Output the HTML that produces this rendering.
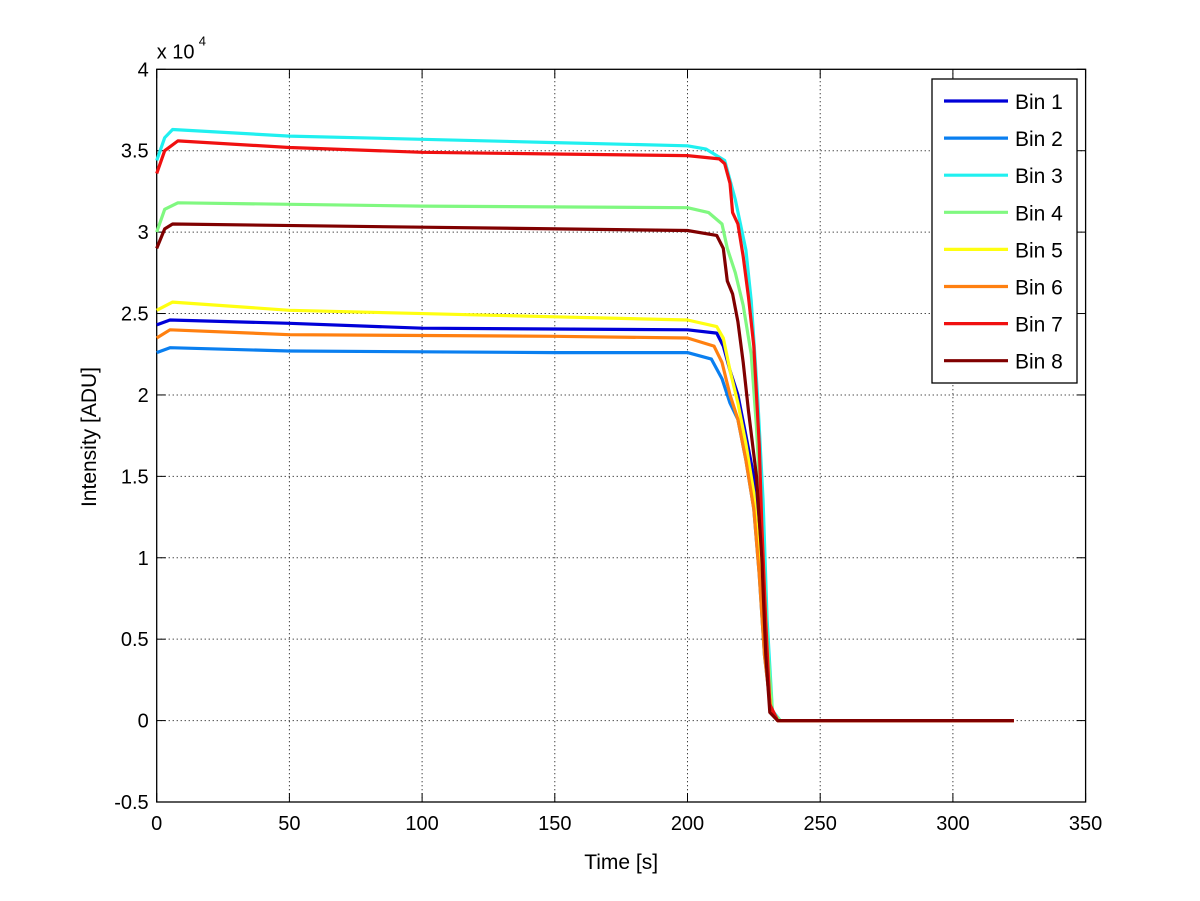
<!DOCTYPE html>
<html><head><meta charset="utf-8"><style>
body{margin:0;background:#fff;width:1200px;height:901px;overflow:hidden}
svg{display:block;font-family:"Liberation Sans",sans-serif}
</style></head><body>
<svg id="chart" width="1200" height="901"></svg>
<script>
const xTicks=[0,50,100,150,200,250,300,350];
const yTicks=[-0.5,0,0.5,1,1.5,2,2.5,3,3.5,4];
const yTickLabels=["-0.5","0","0.5","1","1.5","2","2.5","3","3.5","4"];
const seriesNames=["Bin 1","Bin 2","Bin 3","Bin 4","Bin 5","Bin 6","Bin 7","Bin 8"];
const seriesColors=["#0000d8","#0a7ff0","#20f0f0","#80f880","#ffff10","#ff8010","#f01010","#800000"];
const bin1=[[0,2.43],[5,2.46],[50,2.44],[100,2.41],[200,2.40],[211,2.38],[213.5,2.30],[216,2.15],[219,2.0],[222,1.75],[225,1.5],[227,1.05],[229,0.5],[231.5,0.05],[234,0],[323,0]];
const bin2=[[0,2.26],[5,2.29],[50,2.27],[150,2.26],[200,2.26],[209,2.22],[213,2.1],[216,1.95],[219,1.85],[222,1.6],[225,1.3],[227,0.9],[229,0.4],[231.5,0.05],[234,0],[323,0]];
const bin3=[[0,3.44],[3,3.58],[6,3.63],[50,3.59],[100,3.57],[150,3.55],[200,3.53],[207,3.51],[214,3.44],[218,3.2],[222,2.89],[224,2.58],[226.5,1.97],[228.5,1.35],[230,0.62],[232,0.06],[235,0],[323,0]];
const bin4=[[0,3.0],[3,3.14],[8,3.18],[100,3.16],[200,3.15],[208,3.12],[213,3.05],[215,2.9],[218,2.75],[221,2.55],[224,2.25],[226,1.8],[228,1.2],[230,0.5],[232,0.05],[235,0],[323,0]];
const bin5=[[0,2.52],[6,2.57],[50,2.52],[150,2.48],[200,2.46],[211,2.42],[213.5,2.35],[216,2.15],[219,1.95],[222,1.7],[225,1.4],[227,1.0],[229,0.5],[231.5,0.05],[234,0],[323,0]];
const bin6=[[0,2.35],[5,2.40],[50,2.37],[150,2.36],[200,2.35],[210,2.30],[213,2.2],[216,2.0],[219,1.85],[222,1.6],[225,1.3],[227,0.9],[229,0.4],[231.5,0.05],[234,0],[323,0]];
const bin7=[[0,3.36],[3,3.50],[8,3.56],[50,3.52],[100,3.49],[150,3.48],[200,3.47],[212,3.45],[214,3.42],[216,3.3],[217,3.12],[219,3.05],[221,2.85],[223,2.6],[225,2.3],[227,1.7],[228,1.2],[229.5,0.6],[231,0.1],[234,0],[323,0]];
const bin8=[[0,2.90],[3,3.02],[6,3.05],[100,3.03],[200,3.01],[211,2.98],[213.5,2.9],[215,2.7],[217,2.62],[219,2.45],[221,2.2],[223,1.9],[226,1.5],[228,1.0],[229.5,0.4],[231,0.05],[234,0],[323,0]];
const seriesData=[bin1,bin2,bin3,bin4,bin5,bin6,bin7,bin8];

const L=156.7,R=1085.6,T=69.3,B=802;
const xMin=0,xMax=350,yMin=-0.5,yMax=4;
function xs(v){return L+(v-xMin)/(xMax-xMin)*(R-L);}
function ys(v){return B-(v-yMin)/(yMax-yMin)*(B-T);}
const NS="http://www.w3.org/2000/svg";
const svg=document.getElementById('chart');
function mk(tag,attrs,parent){const e=document.createElementNS(NS,tag);for(const k in attrs)e.setAttribute(k,attrs[k]);(parent||svg).appendChild(e);return e;}

// grid
xTicks.forEach((t,i)=>{
  const x=xs(t);
  if(i>0&&i<xTicks.length-1){const g=mk('line',{x1:x,x2:x,y1:T,y2:B,stroke:'#000','stroke-width':1,'stroke-dasharray':'1,3'});
  
  }
  const tk=mk('line',{x1:x,x2:x,y1:B,y2:B-9,stroke:'#000'});
  
  
  const tk2=mk('line',{x1:x,x2:x,y1:T,y2:T+9,stroke:'#000'});
  
  
  const lb=mk('text',{x:x,y:B+28,'font-size':20,'text-anchor':'middle'});
  lb.textContent=t;
  
  
});
yTicks.forEach((t,i)=>{
  const y=ys(t);
  if(i>0&&i<yTicks.length-1){const g=mk('line',{x1:L,x2:R,y1:y,y2:y,stroke:'#000','stroke-width':1,'stroke-dasharray':'1,3'});
  
  }
  const tk=mk('line',{x1:L,x2:L+9,y1:y,y2:y,stroke:'#000'});
  
  
  const tk2=mk('line',{x1:R,x2:R-9,y1:y,y2:y,stroke:'#000'});
  
  
  const lb=mk('text',{x:L-8,y:y+7,'font-size':20,'text-anchor':'end'});
  lb.textContent=yTickLabels[i];
  
  
});
const frame=mk('rect',{x:L,y:T,width:R-L,height:B-T,fill:'none',stroke:'#000','stroke-width':1.3});



// series
seriesData.forEach((d,i)=>{
  const p=mk('polyline',{points:d.map(q=>xs(q[0]).toFixed(1)+','+ys(q[1]).toFixed(1)).join(' '),fill:'none',stroke:seriesColors[i],'stroke-width':3.2,'stroke-linejoin':'round'});
  
  
});

// exponent
const ex=mk('text',{x:L,y:T-11,'font-size':20});
ex.textContent='x 10';


const ex2=mk('text',{x:L+42,y:T-24,'font-size':13});
ex2.textContent='4';



// axis labels
const xl=mk('text',{x:(L+R)/2,y:869,'font-size':21,'text-anchor':'middle'});
xl.textContent='Time [s]';


const yl=mk('text',{x:0,y:0,'font-size':21,'text-anchor':'middle',transform:'translate(96,437) rotate(-90)'});
yl.textContent='Intensity [ADU]';



// legend
const lg=mk('g',{});


const lr=mk('rect',{x:932,y:79,width:145,height:304,fill:'#fff',stroke:'#000','stroke-width':1.3},lg);


seriesNames.forEach((n,i)=>{
  const y=101+i*37.1;
  const ln=mk('line',{x1:944,x2:1008,y1:y,y2:y,stroke:seriesColors[i],'stroke-width':3.2},lg);
  
  
  const tx=mk('text',{x:1015,y:y+8,'font-size':21},lg);
  tx.textContent=n;
  
  
});
</script>
</body></html>
